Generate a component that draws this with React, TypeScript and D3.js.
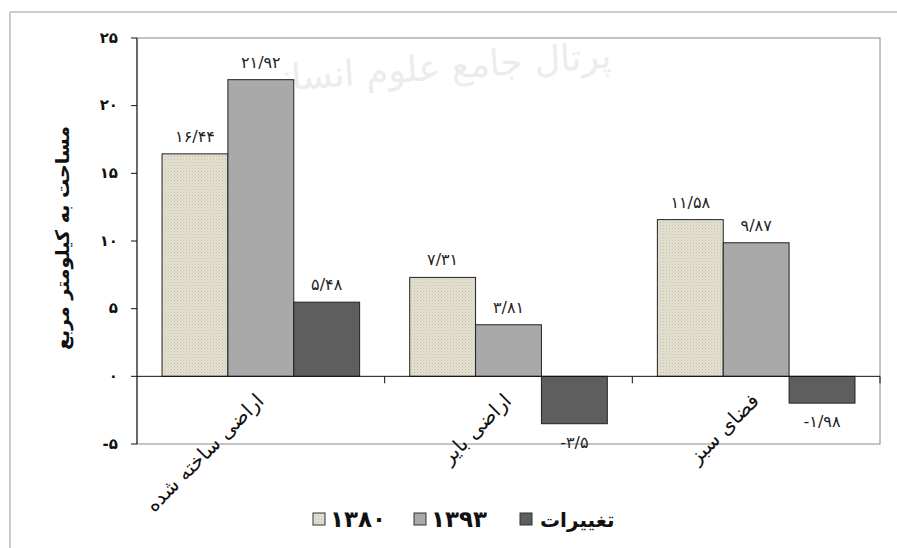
import React from 'react';
import * as d3 from 'd3';

const W = 897;
const H = 548;

const categories = ['اراضی ساخته شده', 'اراضی بایر', 'فضای سبز'];
const seriesNames = ['۱۳۸۰', '۱۳۹۳', 'تغییرات'];
const values1380 = [16.44, 7.31, 11.58];
const values1393 = [21.92, 3.81, 9.87];
const valuesChange = [5.48, -3.5, -1.98];
const yTicks = [-5, 0, 5, 10, 15, 20, 25];

const FONT = '"DejaVu Sans", sans-serif';
const MARGIN = { left: 137, right: 17, top: 38, bottom: 104 };

const fills = ['url(#dots)', '#a9a9a9', '#5e5e5e'];

// latin digits -> persian digits, "." -> "/"
const fa = (n: number) =>
  String(n)
    .replace(/\d/g, (d) => '۰۱۲۳۴۵۶۷۸۹'[+d])
    .replace('.', '/');

const App: React.FC = () => {
  const plotL = MARGIN.left;
  const plotR = W - MARGIN.right;
  const plotT = MARGIN.top;
  const plotB = H - MARGIN.bottom;

  const x0 = d3.scaleBand<string>().domain(categories).range([plotL, plotR]).padding(0);
  const x1 = d3
    .scaleBand<string>()
    .domain(seriesNames)
    .range([0, x0.bandwidth()])
    .paddingInner(0)
    .paddingOuter(0.38);
  const y = d3.scaleLinear().domain([-5, 25]).range([plotB, plotT]);

  const seriesValues = [values1380, values1393, valuesChange];

  const bars = categories.flatMap((cat, ci) =>
    seriesNames.map((s, si) => {
      const v = seriesValues[si][ci];
      const bx = (x0(cat) ?? 0) + (x1(s) ?? 0);
      const top = y(Math.max(v, 0));
      const bottom = y(Math.min(v, 0));
      const cx = bx + x1.bandwidth() / 2;
      const ly = v >= 0 ? top - 12 : bottom + 24;
      return (
        <g key={`${ci}-${si}`}>
          <rect
            x={bx}
            y={top}
            width={x1.bandwidth()}
            height={bottom - top}
            fill={fills[si]}
            stroke="#222"
            strokeWidth={1}
          />
          <text
            x={cx}
            y={ly}
            textAnchor="middle"
            fontSize={16}
            fill="#222"
            direction="ltr"
          >
            {fa(v)}
          </text>
        </g>
      );
    })
  );

  const legendItems = [
    { box: 313, text: 330 },
    { box: 414, text: 431 },
    { box: 520, text: 540 },
  ];

  return (
    <svg
      width={W}
      height={H}
      style={{ position: 'absolute', left: 0, top: 0, background: '#fff' }}
      fontFamily={FONT}
    >
      <defs>
        <pattern id="dots" width={3} height={3} patternUnits="userSpaceOnUse">
          <rect width={3} height={3} fill="#e4e1d2" />
          <rect width={1} height={1} fill="#c3bfac" />
          <rect x={1.5} y={1.5} width={1} height={1} fill="#cfcbb9" />
        </pattern>
      </defs>

      {/* outer frame */}
      <line x1={10} y1={12} x2={W} y2={12} stroke="#999" />
      <line x1={10} y1={12} x2={10} y2={H} stroke="#999" />

      {/* watermark */}
      <text
        x={432}
        y={80}
        textAnchor="middle"
        fontSize={36}
        fill="#ececec"
        transform="rotate(-4 432 80)"
      >
        پرتال جامع علوم انسانی
      </text>

      {/* plot area border */}
      <rect
        x={plotL}
        y={plotT}
        width={plotR - plotL}
        height={plotB - plotT}
        fill="none"
        stroke="#8a8a8a"
      />

      {bars}

      {/* y axis */}
      <line x1={plotL} y1={plotT} x2={plotL} y2={plotB} stroke="#111" />
      {yTicks.map((t) => (
        <g key={t}>
          <line x1={plotL - 6} y1={y(t)} x2={plotL} y2={y(t)} stroke="#111" />
          <text
            x={118}
            y={y(t)}
            textAnchor="end"
            dominantBaseline="middle"
            fontSize={15}
            fontWeight="bold"
            fill="#111"
            direction="ltr"
          >
            {fa(t)}
          </text>
        </g>
      ))}

      {/* zero line with category ticks */}
      <line x1={plotL} y1={y(0)} x2={plotR} y2={y(0)} stroke="#111" />
      {categories.map((c) => (
        <line
          key={c}
          x1={(x0(c) ?? 0) + x0.bandwidth()}
          y1={y(0)}
          x2={(x0(c) ?? 0) + x0.bandwidth()}
          y2={y(0) + 7}
          stroke="#111"
        />
      ))}

      {/* category labels */}
      {categories.map((c) => {
        const ax = (x0(c) ?? 0) + x0.bandwidth() / 2 + 4;
        const ay = 402;
        return (
          <text
            key={c}
            x={ax}
            y={ay}
            textAnchor="end"
            fontSize={20}
            fill="#111"
            transform={`rotate(-45 ${ax} ${ay})`}
          >
            {c}
          </text>
        );
      })}

      {/* y title */}
      <text
        x={0}
        y={0}
        textAnchor="middle"
        fontSize={19}
        fontWeight="bold"
        fill="#111"
        transform={`translate(69, 238) rotate(-90)`}
      >
        مساحت به کیلومتر مربع
      </text>

      {/* legend */}
      {seriesNames.map((s, i) => (
        <g key={s}>
          <rect
            x={legendItems[i].box}
            y={513}
            width={12}
            height={12}
            fill={fills[i]}
            stroke="#333"
          />
          <text
            x={legendItems[i].text}
            y={527}
            fontSize={i < 2 ? 23 : 20}
            fontWeight="bold"
            fill="#111"
            textAnchor="start"
          >
            {s}
          </text>
        </g>
      ))}
    </svg>
  );
};

export default App;
